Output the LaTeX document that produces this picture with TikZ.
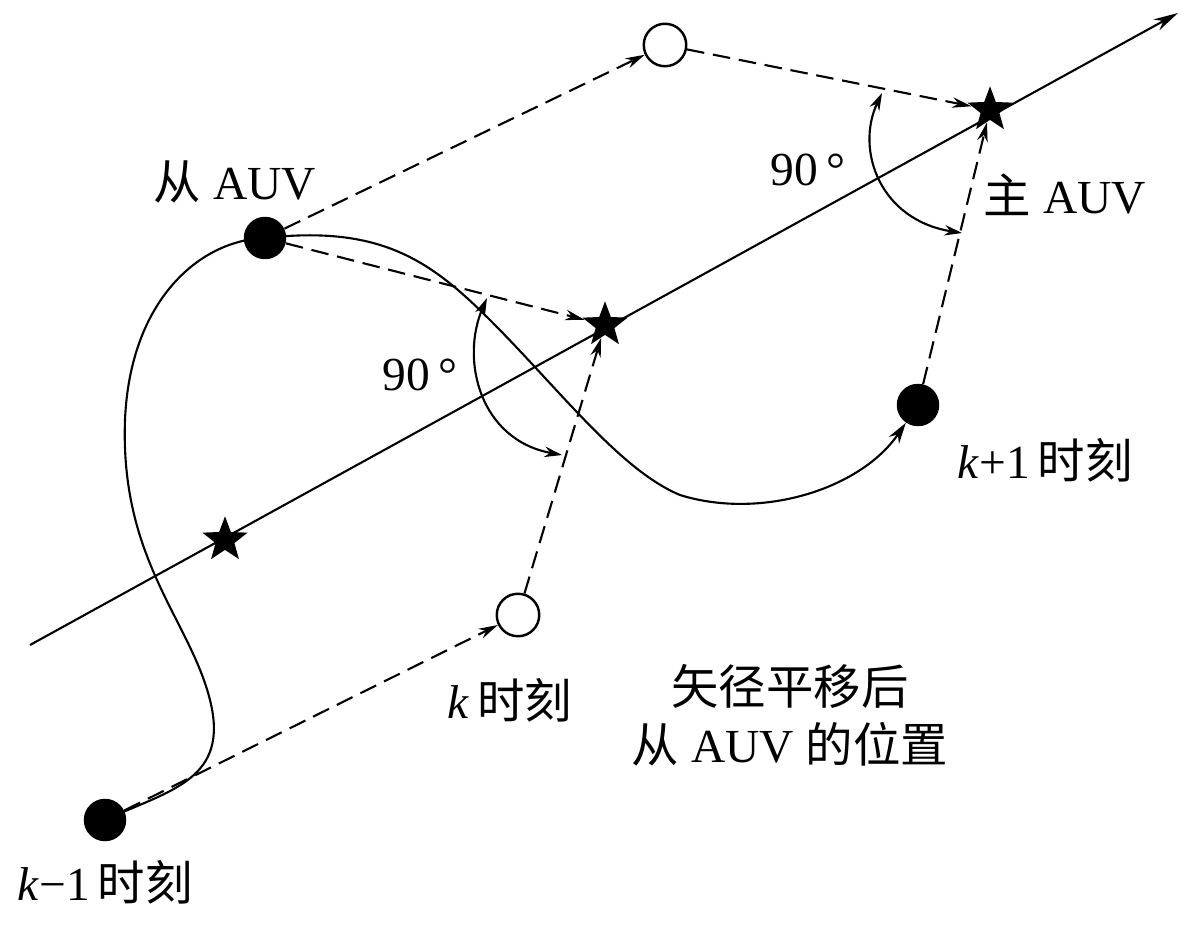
\documentclass[tikz,border=0pt]{standalone}
\usepackage{fontspec}
\setmainfont{Liberation Serif}
\newfontfamily\cjk{Noto Sans CJK SC}
\usetikzlibrary{arrows.meta,shapes.geometric}
\begin{document}
\begin{tikzpicture}[x=0.02cm,y=-0.02cm,
  lab/.style={font=\fontsize{27}{33}\selectfont},
  dot/.style={circle,fill=black,minimum size=0.85cm,inner sep=0},
  hol/.style={circle,draw,line width=1.4pt,fill=white,minimum size=0.85cm,inner sep=0},
  st/.style={star,star points=5,star point ratio=2.4,fill=black,minimum size=0.95cm,inner sep=0},
  dsh/.style={dashed,dash pattern=on 10pt off 5pt,line width=1.2pt,-{Stealth[length=11pt,width=6pt]}},
  ln/.style={line width=1.2pt}]
\useasboundingbox (0,0) rectangle (1200,926);
\coordinate (L0) at (30,645);
\coordinate (L1) at (1178,13);
\draw[ln,-{Stealth[length=14pt,width=7pt]}] (L0) -- (L1);
\node[st] (s1) at (225,540) {};
\node[st] (s2) at (605,325) {};
\node[st] (s3) at (990,110) {};
\node[dot] (km) at (105,820) {};
\node[dot] (sa) at (265,238) {};
\node[dot] (kp) at (918,405) {};
\node[hol] (h1) at (665,45) {};
\node[hol] (h2) at (518,615) {};
\draw[ln] (km.center) .. controls (170,790) and (230,780) .. (210,700)
  .. controls (190,620) and (120,560) .. (125,420)
  .. controls (130,300) and (200,240) .. (sa.center);
\draw[ln,-{Stealth[length=12pt,width=7pt]}] (sa.center) .. controls (380,225) and (430,260) .. (490,320)
  .. controls (560,390) and (620,470) .. (680,495)
  .. controls (760,520) and (860,490) .. (kp);
\draw[dsh] (km) -- (h2);
\draw[dsh] (sa) -- (h1);
\draw[dsh] (h1) -- (s3);
\draw[dsh] (sa) -- (s2);
\draw[dsh] (h2) -- (s2);
\draw[dsh] (kp) -- (s3);
\draw[ln,{Stealth[length=10pt,width=6pt]}-{Stealth[length=10pt,width=6pt]}] (487,298) .. controls (460,360) and (480,440) .. (562,455);
\draw[ln,{Stealth[length=10pt,width=6pt]}-{Stealth[length=10pt,width=6pt]}] (882,93) .. controls (855,150) and (880,220) .. (962,233);
\node[lab] (a1) at (420,375) {90\,°};
\node[lab] (a2) at (808,170) {90\,°};
\node[lab] (t1) at (235,182) {{\cjk 从} AUV};
\node[lab] (t2) at (1065,195) {{\cjk 主} AUV};
\node[lab] (t3) at (1045,460) {\textit{k}+1\,{\cjk 时刻}};
\node[lab] (t4) at (510,700) {\textit{k}\,{\cjk 时刻}};
\node[lab,align=center] (t5) at (790,715) {{\cjk 矢径平移后}\\{\cjk 从} AUV {\cjk 的位置}};
\node[lab] (t6) at (105,882) {\textit{k}−1\,{\cjk 时刻}};
\end{tikzpicture}
\end{document}
